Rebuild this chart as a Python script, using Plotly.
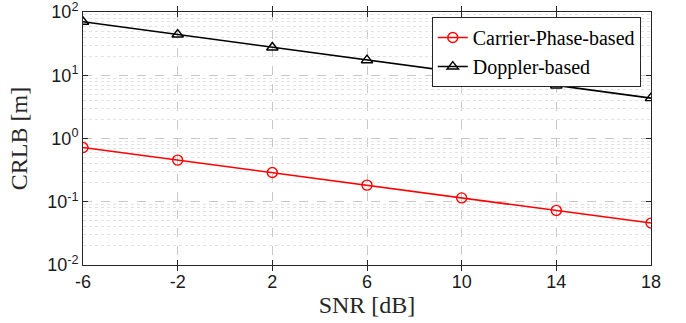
import plotly.graph_objects as go

snr = [-6, -2, 2, 6, 10, 14, 18]
snr_labels = ["-6", "-2", "2", "6", "10", "14", "18"]
carrier = [0.72, 0.455, 0.29, 0.183, 0.115, 0.073, 0.046]
doppler = [70, 44, 27.5, 17.3, 10.9, 6.9, 4.35]
ytick_vals = [0.01, 0.1, 1, 10, 100]
ytick_text = ["10<sup>-2</sup>", "10<sup>-1</sup>", "10<sup>0</sup>", "10<sup>1</sup>", "10<sup>2</sup>"]
minor_vals = [m * d for d in [0.01, 0.1, 1, 10] for m in range(2, 10)]

serif = "Liberation Serif, Times New Roman"
fig = go.Figure()
fig.add_trace(go.Scatter(x=snr, y=carrier, mode="lines+markers", name="Carrier-Phase-based",
                         line=dict(color="#ff0000", width=1.6),
                         marker=dict(symbol="circle-open", size=10, color="#ff0000", line=dict(width=1.4))))
fig.add_trace(go.Scatter(x=snr, y=doppler, mode="lines+markers", name="Doppler-based",
                         line=dict(color="#000000", width=1.6),
                         marker=dict(symbol="triangle-up-open", size=10, color="#000000", line=dict(width=1.4))))
fig.add_trace(go.Scatter(x=[None], y=[None], yaxis="y2", showlegend=False, hoverinfo="skip"))

fig.update_layout(
    width=686, height=323,
    margin=dict(l=83, r=35, t=12, b=58, autoexpand=False),
    paper_bgcolor="white", plot_bgcolor="white",
    font=dict(family="Liberation Sans, Arial", size=18, color="#1a1a1a"),
    legend=dict(x=0.982, y=0.98, xanchor="right", yanchor="top",
                bgcolor="white", bordercolor="#262626", borderwidth=1,
                font=dict(family=serif, size=20, color="#000"),
                tracegroupgap=0, itemwidth=30),
    showlegend=True,
    xaxis=dict(
        range=[-6, 18], tickvals=snr, ticktext=snr_labels, ticks="inside", ticklen=5, tickcolor="#262626",
        showline=True, linecolor="#262626", linewidth=1, mirror="allticks",
        showgrid=True, gridcolor="#c8c8c8", griddash="dash", gridwidth=1,
        zeroline=False, automargin=False, ticklabeloverflow="allow",
        title=dict(text="SNR [dB]", font=dict(family=serif, size=24, color="#262626"), standoff=0),
    ),
    yaxis=dict(
        type="log", range=[-2, 2], tickvals=ytick_vals, ticktext=ytick_text,
        ticks="inside", ticklen=5, tickcolor="#262626",
        showline=True, linecolor="#262626", linewidth=1, mirror="allticks",
        showgrid=True, gridcolor="#c8c8c8", griddash="dash", gridwidth=1,
        zeroline=False, automargin=False, ticklabeloverflow="allow",
        title=dict(text="CRLB [m]", font=dict(family=serif, size=24, color="#262626"), standoff=12),
    ),
    yaxis2=dict(type="log", range=[-2, 2], overlaying="y", tickvals=minor_vals,
                showticklabels=False, ticks="", showgrid=True, gridcolor="#e2e2e2",
                griddash="dot", gridwidth=1, zeroline=False, showline=False, layer="below traces"),
)
fig.write_html(
    "out.html",
    config={"displayModeBar": False},
    post_script="document.documentElement.style.margin='0';document.body.style.margin='0';"
                "document.body.style.overflow='hidden';document.documentElement.style.overflow='hidden';",
)
